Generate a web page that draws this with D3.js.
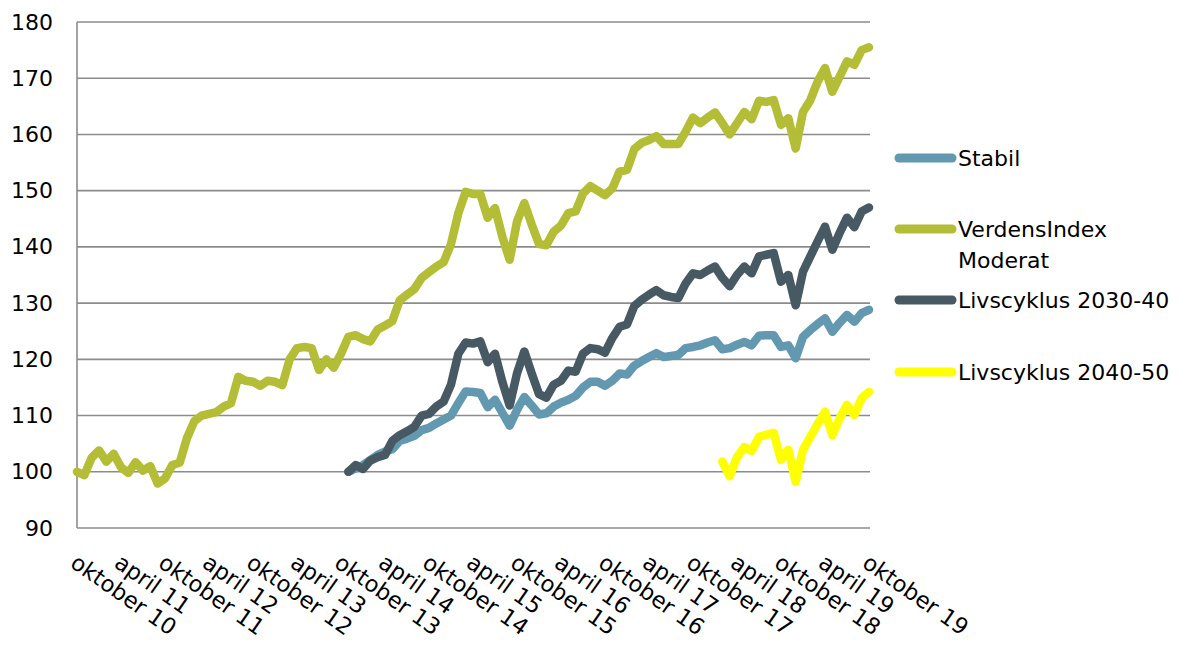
<!DOCTYPE html>
<html>
<head>
<meta charset="utf-8">
<script src="https://cdn.jsdelivr.net/npm/d3@7/dist/d3.min.js"></script>
<style>
  html, body { margin: 0; padding: 0; background: #ffffff; }
  svg { display: block; }
  text { font-family: "DejaVu Sans", Verdana, sans-serif; fill: #000; }
</style>
</head>
<body>
<div id="chart"></div>
<script>
// ---------- DATA ----------
// Monthly index values, month 0 = oktober 2010, month 108 = oktober 2019
const tickLabels = ["oktober 10","april 11","oktober 11","april 12","oktober 12","april 13",
  "oktober 13","april 14","oktober 14","april 15","oktober 15","april 16","oktober 16",
  "april 17","oktober 17","april 18","oktober 18","april 19","oktober 19"];
const tickMonths = [0,6,12,18,24,30,36,42,48,54,60,66,72,78,84,90,96,102,108];
const yTicks = [90,100,110,120,130,140,150,160,170,180];

const seriesNames = ["Stabil", "VerdensIndex Moderat", "Livscyklus 2030-40", "Livscyklus 2040-50"];
const seriesColors = ["#6398b1", "#b3bd35", "#475a63", "#ffff00"];

// VerdensIndex Moderat starts at month 0
const verdensStart = 0;
const verdens = [100,99.4,102.5,103.8,101.8,103.2,100.8,99.8,101.7,100.2,
  101,97.9,98.8,101.2,101.6,106,109,110,110.3,110.6,
  111.6,112.2,116.9,116.2,116,115.3,116.2,116,115.4,120,
  122,122.2,122,118.1,120,118.5,121,124,124.3,123.6,
  123.2,125.3,126,126.8,130.5,131.5,132.5,134.5,135.5,136.5,
  137.3,140.5,146,149.8,149.4,149.4,145.2,146.9,141.8,137.7,
  144.5,147.8,144,140.5,140.3,142.7,143.8,146,146.3,149.5,
  150.8,150,149.2,150.4,153.4,153.7,157.4,158.5,159,159.7,
  158.3,158.3,158.3,160.5,163,162,163,163.9,162,160,
  162,164,162.7,166,165.8,166.1,161.7,162.9,157.5,164,
  166.1,169.4,171.8,167.6,170.3,173,172.4,175,175.5];

// Stabil starts at month 37
const stabilStart = 37;
const stabil = [100,100.6,101.2,102.1,103,103.6,104,105.5,105.9,106.4,
  107.4,107.8,108.6,109.3,110,112.2,114.3,114.2,114,111.5,
  112.8,110.5,108.2,111,113.3,111.8,110.2,110.4,111.6,112.3,
  112.8,113.5,115,116,116,115.3,116.2,117.5,117.3,118.9,
  119.7,120.4,121.1,120.4,120.6,120.8,122,122.2,122.5,123,
  123.4,121.8,122,122.6,123.1,122.5,124.2,124.3,124.3,122.2,
  122.5,120.2,124,125.2,126.3,127.3,124.9,126.5,127.9,126.7,
  128.2,128.8];

// Livscyklus 2030-40 starts at month 37
const liv3040Start = 37;
const liv3040 = [100,101.2,100.5,102,102.6,103,105.5,106.5,107.2,108,
  110,110.3,111.6,112.5,115.5,121,123,122.8,123.2,119.5,
  121,116,111.8,117.5,121.4,117.5,113.8,113.2,115.5,116.2,
  118,117.8,121,122,121.8,121.2,123.8,125.8,126.2,129.5,
  130.6,131.5,132.3,131.4,131.1,130.9,133.5,135.3,135,135.8,
  136.5,134.5,133,135,136.5,135.3,138.3,138.6,138.9,133.8,
  135,129.6,135.6,138.3,141,143.6,139.5,142.5,145.2,143.5,
  146.3,147];

// Livscyklus 2040-50 starts at month 88
const liv4050Start = 88;
const liv4050 = [101.8,99.2,102.6,104.4,103.7,106.2,106.6,106.9,102.1,103.9,
  98.2,103.9,106.2,108.5,110.7,106.5,109.5,111.9,110.1,113.1,114.2];

// ---------- CHART ----------
const W = 1195, H = 646;
const plot = { left: 77, right: 870, top: 22, bottom: 528 };

const svg = d3.select("#chart").append("svg").attr("width", W).attr("height", H);

const x = d3.scaleLinear().domain([0, 108]).range([plot.left, plot.right - 1]);
const y = d3.scaleLinear().domain([90, 180]).range([plot.bottom, plot.top]);

// gridlines
svg.append("g").selectAll("line").data(yTicks).join("line")
  .attr("x1", plot.left).attr("x2", plot.right)
  .attr("y1", d => y(d)).attr("y2", d => y(d))
  .attr("stroke", "#8c8c8c").attr("stroke-width", 1.6);

// y axis line
svg.append("line")
  .attr("x1", plot.left).attr("x2", plot.left)
  .attr("y1", plot.top).attr("y2", plot.bottom)
  .attr("stroke", "#8c8c8c").attr("stroke-width", 1.6);

// y axis labels
const yAxis = d3.axisLeft(y).tickValues(yTicks).tickSize(0).tickPadding(24).tickFormat(d3.format("d"));
const gy = svg.append("g").attr("transform", `translate(${plot.left},0)`).call(yAxis);
gy.select(".domain").remove();
gy.selectAll("text").style("font-family", "DejaVu Sans, Verdana, sans-serif")
  .style("font-size", "22px").attr("fill", "#000");

// x labels (rotated)
svg.append("g").selectAll("text").data(tickMonths).join("text")
  .attr("transform", d => `translate(${x(d) - 8},${plot.bottom + 38}) rotate(35)`)
  .attr("text-anchor", "start")
  .style("font-size", "22.5px")
  .text((d, i) => tickLabels[i]);

// series
const series = [
  { start: stabilStart, values: stabil },
  { start: verdensStart, values: verdens },
  { start: liv3040Start, values: liv3040 },
  { start: liv4050Start, values: liv4050 }
];
const line = d3.line().x(d => x(d[0])).y(d => y(d[1]));

series.forEach((s, k) => {
  const pts = s.values.map((v, i) => [s.start + i, v]);
  svg.append("path").datum(pts)
    .attr("d", line)
    .attr("fill", "none")
    .attr("stroke", seriesColors[k])
    .attr("stroke-width", 8.5)
    .attr("stroke-linejoin", "round")
    .attr("stroke-linecap", "round");
});

// legend
const legendY = [158, 229, 300, 372];
const lg = svg.append("g");
seriesNames.forEach((name, k) => {
  lg.append("line")
    .attr("x1", 899).attr("x2", 952)
    .attr("y1", legendY[k]).attr("y2", legendY[k])
    .attr("stroke", seriesColors[k]).attr("stroke-width", 9)
    .attr("stroke-linecap", "round");
  const t = lg.append("text")
    .attr("x", 958).attr("y", legendY[k])
    .attr("dy", "0.36em")
    .style("font-size", "22px");
  if (name === "VerdensIndex Moderat") {
    t.append("tspan").attr("x", 958).text("VerdensIndex");
    t.append("tspan").attr("x", 958).attr("dy", 31).text("Moderat");
  } else {
    t.text(name);
  }
});
</script>
</body>
</html>
